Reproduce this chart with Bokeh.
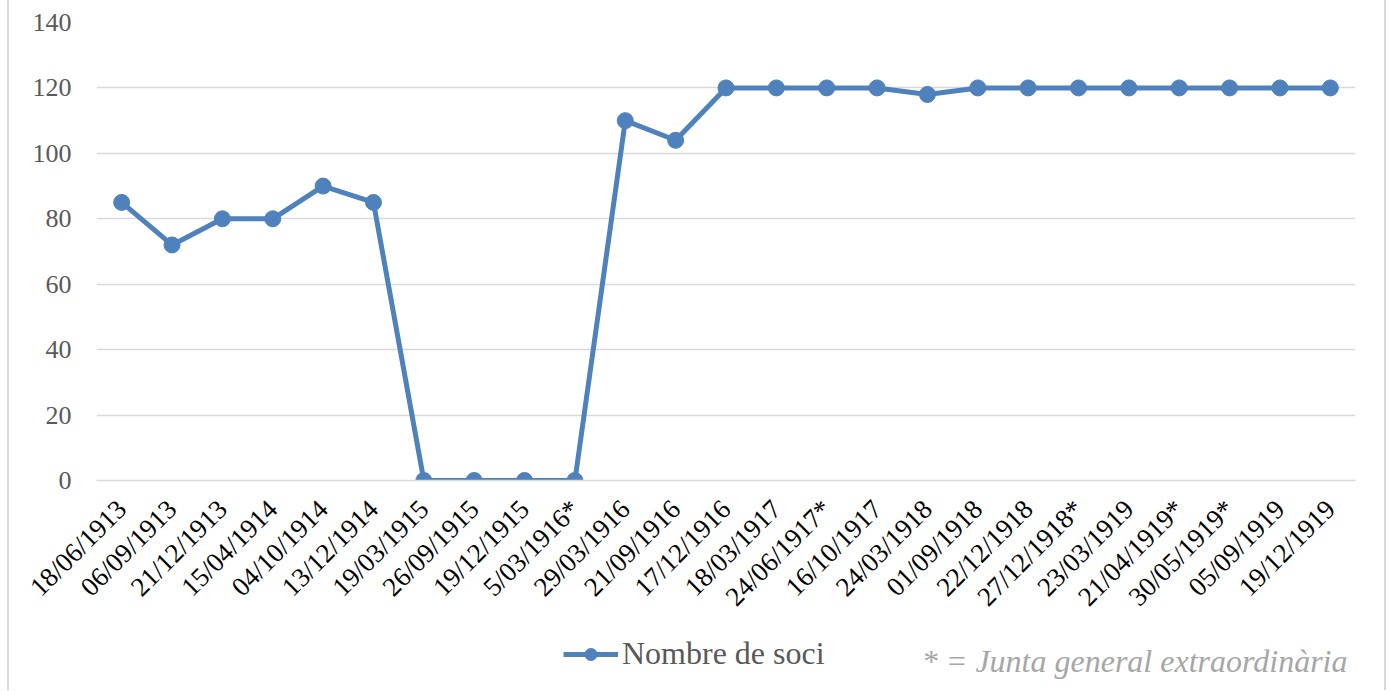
import math
from bokeh.plotting import figure
from bokeh.layouts import column
from bokeh.models import ColumnDataSource, Range1d, FactorRange, Legend, LegendItem, Label, FixedTicker
from bokeh.embed import file_html
from bokeh.resources import INLINE

dates = ["18/06/1913", "06/09/1913", "21/12/1913", "15/04/1914", "04/10/1914",
         "13/12/1914", "19/03/1915", "26/09/1915", "19/12/1915", "5/03/1916*",
         "29/03/1916", "21/09/1916", "17/12/1916", "18/03/1917", "24/06/1917*",
         "16/10/1917", "24/03/1918", "01/09/1918", "22/12/1918", "27/12/1918*",
         "23/03/1919", "21/04/1919*", "30/05/1919*", "05/09/1919", "19/12/1919"]
socis = [85, 72, 80, 80, 90, 85, 0, 0, 0, 0, 110, 104, 120, 120, 120,
         120, 118, 120, 120, 120, 120, 120, 120, 120, 120]
y_ticks = [0, 20, 40, 60, 80, 100, 120, 140]
series_name = "Nombre de soci"
note = "* = Junta general extraordinària"

FONT = "Liberation Serif"
BLUE = "#4f81bd"
W = 1375

src = ColumnDataSource(dict(x=dates, y=socis))

p = figure(width=W, height=630, output_backend="svg", toolbar_location=None,
           x_range=FactorRange(factors=dates, range_padding=0),
           y_range=Range1d(0, 140),
           min_border_left=87, min_border_right=29, min_border_top=22, min_border_bottom=150)
p.outline_line_color = None
p.border_fill_color = "white"

ln = p.line("x", "y", source=src, line_color=BLUE, line_width=5)
pts = p.scatter("x", "y", source=src, size=16, fill_color=BLUE, line_color=BLUE)

p.xgrid.grid_line_color = None
p.ygrid.grid_line_color = "#d9d9d9"
p.ygrid.grid_line_width = 1.5
p.yaxis.ticker = FixedTicker(ticks=y_ticks)

p.yaxis.axis_line_color = None
p.yaxis.major_tick_line_color = None
p.yaxis.minor_tick_line_color = None
p.yaxis.major_tick_out = 0
p.yaxis.major_label_standoff = 25
p.yaxis.major_label_text_font = FONT
p.yaxis.major_label_text_font_size = "26px"
p.yaxis.major_label_text_color = "#595959"

p.xaxis.axis_line_color = "#d9d9d9"
p.xaxis.axis_line_width = 1.5
p.xaxis.major_tick_line_color = None
p.xaxis.major_tick_out = 0
p.xaxis.major_label_standoff = 24
p.xaxis.major_label_orientation = math.pi / 4
p.xaxis.major_label_text_font = FONT
p.xaxis.major_label_text_font_size = "27px"
p.xaxis.major_label_text_color = "#000000"

# bottom strip holding the legend and the footnote (its frame is aligned with the chart's frame)
H2 = 60
q = figure(width=W, height=H2, output_backend="svg", toolbar_location=None,
           x_range=Range1d(96, 1355), y_range=Range1d(0, H2),
           x_axis_location=None, y_axis_location=None,
           min_border_left=87, min_border_right=29, min_border_top=0, min_border_bottom=0)
q.outline_line_color = None
q.grid.grid_line_color = None
q.border_fill_color = "white"
nan = float("nan")
leg_line = q.line(x=[nan], y=[nan], line_color=BLUE, line_width=5)
leg_pts = q.scatter(x=[nan], y=[nan], size=15, fill_color=BLUE, line_color=BLUE)

legend = Legend(items=[LegendItem(label=series_name, renderers=[leg_line, leg_pts])],
                location=(467, 18), orientation="horizontal",
                padding=0, margin=0, spacing=0,
                glyph_width=55, glyph_height=30, label_height=30, label_standoff=4,
                label_text_font=FONT, label_text_font_size="32px", label_text_color="#595959",
                border_line_color=None, background_fill_alpha=0)
q.add_layout(legend, "center")

q.add_layout(Label(x=1347, y=30, text=note,
                   text_font=FONT, text_font_size="32px", text_font_style="italic",
                   text_color="#a6a6a6", text_align="right", text_baseline="middle"))

layout = column(p, q, spacing=0)
layout.styles = {"margin-left": "9px", "box-shadow": "-2px 0 0 #d9d9d9, 2px 0 0 #d9d9d9"}

open("out.html", "w").write(file_html(layout, INLINE))
